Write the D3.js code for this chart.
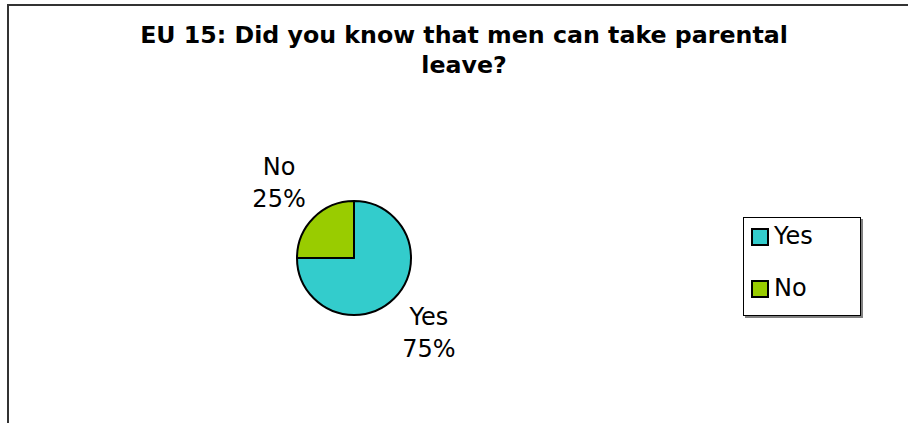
<!DOCTYPE html>
<html>
<head>
<meta charset="utf-8">
<script src="https://cdnjs.cloudflare.com/ajax/libs/d3/7.8.5/d3.min.js"></script>
<style>
    body { margin: 0; background: #fff; }
    text { font-family: "DejaVu Sans", Verdana, sans-serif; }
</style>
</head>
<body>
<svg id="chart"></svg>
<script>
/*global d3*/

var categories = ["Yes", "No"];
var values = [75, 25];
var colors = ["#33cccc", "#99cc00"];
var titleLines = ["EU 15: Did you know that men can take parental", "leave?"];

var width = 908, height = 423;
var svg = d3.select("#chart")
    .attr("width", width)
    .attr("height", height);

// outer frame (only top and left edges are in view)
svg.append("rect")
    .attr("x", 8).attr("y", 5)
    .attr("width", 1200).attr("height", 1200)
    .attr("fill", "none")
    .attr("stroke", "#333")
    .attr("stroke-width", 2);

// title
svg.append("g").selectAll("text")
    .data(titleLines)
    .enter()
    .append("text")
    .attr("x", 464)
    .attr("y", function (d, i) { return 43 + i * 30; })
    .attr("text-anchor", "middle")
    .attr("font-weight", "bold")
    .attr("font-size", "23.7px")
    .text(function (d) { return d; });

// pie
var cx = 354, cy = 258, radius = 57;
var pieData = d3.pie().sort(null)(values);
var arc = d3.arc().innerRadius(0).outerRadius(radius);
var labelArc = d3.arc().innerRadius(106).outerRadius(106);

var pieG = svg.append("g")
    .attr("transform", "translate(" + cx + "," + cy + ")");

pieG.selectAll("path")
    .data(pieData)
    .enter()
    .append("path")
    .attr("d", arc)
    .attr("fill", function (d, i) { return colors[i]; })
    .attr("stroke", "#000")
    .attr("stroke-width", 2)
    .attr("stroke-linejoin", "round");

var labels = pieG.selectAll("g.label")
    .data(pieData)
    .enter()
    .append("g")
    .attr("class", "label")
    .attr("transform", function (d) {
        var c = labelArc.centroid(d);
        return "translate(" + c[0] + "," + c[1] + ")";
    });

labels.append("text")
    .attr("y", -8)
    .attr("text-anchor", "middle")
    .attr("font-size", "24px")
    .text(function (d, i) { return categories[i]; });

labels.append("text")
    .attr("y", 24)
    .attr("text-anchor", "middle")
    .attr("font-size", "24px")
    .text(function (d) {
        return Math.round(100 * d.value / d3.sum(values)) + "%";
    });

// legend
var legend = svg.append("g").attr("transform", "translate(743,217)");
legend.append("rect")
    .attr("x", 2).attr("y", 2)
    .attr("width", 118).attr("height", 99)
    .attr("fill", "#808080");
legend.append("rect")
    .attr("x", 0.5).attr("y", 0.5)
    .attr("width", 117).attr("height", 98)
    .attr("fill", "#fff")
    .attr("stroke", "#000")
    .attr("stroke-width", 1);

var items = legend.selectAll("g.item")
    .data(categories)
    .enter()
    .append("g")
    .attr("class", "item")
    .attr("transform", function (d, i) { return "translate(0," + (i * 52) + ")"; });

items.append("rect")
    .attr("x", 9).attr("y", 12)
    .attr("width", 16).attr("height", 16)
    .attr("fill", function (d, i) { return colors[i]; })
    .attr("stroke", "#000")
    .attr("stroke-width", 2);

items.append("text")
    .attr("x", 31)
    .attr("y", 27)
    .attr("font-size", "24px")
    .text(function (d) { return d; });
</script>
</body>
</html>
